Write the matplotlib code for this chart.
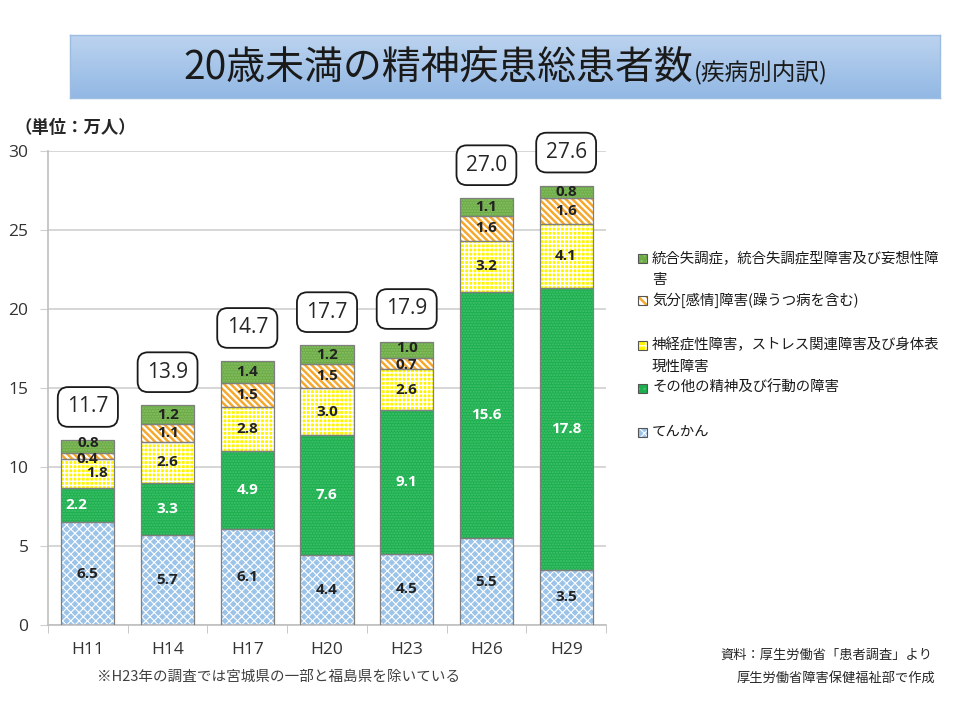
import matplotlib
matplotlib.use("Agg")
import matplotlib.pyplot as plt
import numpy as np
from matplotlib.patches import Rectangle
from matplotlib.colors import LinearSegmentedColormap

plt.rcParams['font.family'] = ['Noto Sans CJK JP', 'DejaVu Sans']

# ---------------- data ----------------
years = ["H11", "H14", "H17", "H20", "H23", "H26", "H29"]
epilepsy = [6.5, 5.7, 6.1, 4.4, 4.5, 5.5, 3.5]
other = [2.2, 3.3, 4.9, 7.6, 9.1, 15.6, 17.8]
neurotic = [1.8, 2.6, 2.8, 3.0, 2.6, 3.2, 4.1]
mood = [0.4, 1.1, 1.5, 1.5, 0.7, 1.6, 1.6]
schizo = [0.8, 1.2, 1.4, 1.2, 1.0, 1.1, 0.8]
total_labels = ["11.7", "13.9", "14.7", "17.7", "17.9", "27.0", "27.6"]

series_names = [
    "統合失調症，統合失調症型障害及び妄想性障\n害",
    "気分[感情]障害(躁うつ病を含む)",
    "神経症性障害，ストレス関連障害及び身体表\n現性障害",
    "その他の精神及び行動の障害",
    "てんかん",
]

# ---------------- figure ----------------
fig = plt.figure(figsize=(9.6, 7.2), dpi=100)
W, H = 960, 720

def fx(px):
    return px / W

def fy(py):
    return 1 - py / H

# title banner
tax = fig.add_axes([fx(70), fy(98), fx(940) - fx(70), fy(35) - fy(98)])
grad = np.linspace(0, 1, 100).reshape(-1, 1)
cmap_t = LinearSegmentedColormap.from_list("t", ["#BCD3EF", "#92B8E4"])
tax.imshow(grad, aspect='auto', cmap=cmap_t, extent=[0, 1, 0, 1], origin='upper')
tax.set_xticks([]); tax.set_yticks([])
for s in tax.spines.values():
    s.set_color("#9DBCE2"); s.set_linewidth(1)
fig.text(fx(183), fy(68), "20歳未満の精神疾患総患者数", fontsize=28, color="#1a1a1a",
         ha='left', va='center')
fig.text(fx(694), fy(73), "(疾病別内訳)", fontsize=17, color="#1a1a1a",
         ha='left', va='center')

# main axes
ax = fig.add_axes([fx(48), fy(625), fx(606) - fx(48), fy(151) - fy(625)])
x = np.arange(len(years))
bw = 0.665

styles = [
    # (values, face, hatchcolor, hatch, hatch lw, label color)
    (epilepsy, "#9CC3E8", "#FFFFFF", "xxxx", 0.8, "#222222"),
    (other, "#1DAF4E", "#45C270", "......", 1.0, "#FFFFFF"),
    (neurotic, "#FFF500", "#FFFFFF", "++++", 1.0, "#222222"),
    (mood, "#FFFFFF", "#F5A82E", "\\\\\\\\\\", 1.8, "#222222"),
    (schizo, "#6DAB47", "#88C166", "......", 1.0, "#222222"),
]

bottom = np.zeros(len(years))
label_off = {  # small offsets (dx, dy) for crowded labels
    (0, 1): (-0.15, 0.0), (0, 2): (0.12, 0.0), (0, 3): (0.0, -0.2), (0, 4): (0.0, 0.25),
    (4, 3): (0.0, -0.12), (4, 4): (0.0, 0.12),
}
for si, (vals, face, hc, hatch, hlw, lc) in enumerate(styles):
    vals = np.array(vals)
    bars = ax.bar(x, vals, bw, bottom=bottom, color=face, edgecolor=hc,
                  hatch=hatch, linewidth=0, zorder=2)
    for b in bars:
        if hasattr(b, "set_hatch_linewidth"):
            b.set_hatch_linewidth(hlw)
    ax.bar(x, vals, bw, bottom=bottom, fill=False, edgecolor="#7F7F7F",
           linewidth=0.9, zorder=3)
    for i, v in enumerate(vals):
        dx, dy = label_off.get((i, si), (0, 0))
        ax.text(x[i] + dx, bottom[i] + v / 2 + dy, f"{v:.1f}", ha='center', va='center',
                fontsize=11, fontweight='bold', color=lc,
                family=['Open Sans', 'DejaVu Sans'], zorder=5)
    bottom = bottom + vals

# total boxes
for i, t in enumerate(total_labels):
    ax.text(x[i], bottom[i] + 2.1, t, ha='center', va='center', fontsize=15,
            color="#262626", family=['Open Sans', 'DejaVu Sans'], zorder=6,
            bbox=dict(boxstyle="round,pad=0.45,rounding_size=0.5", fc="white",
                      ec="#1a1a1a", lw=1.3))

ax.set_xlim(-0.5, len(years) - 0.5)
ax.set_ylim(0, 30)
ax.set_yticks(np.arange(0, 31, 5))
ax.yaxis.grid(True, color="#D0D0D0", lw=1.2, zorder=0)
ax.set_axisbelow(True)
for s in ["top", "right"]:
    ax.spines[s].set_visible(False)
ax.spines["left"].set_color("#BFBFBF")
ax.spines["bottom"].set_color("#BFBFBF")
ax.spines["left"].set_linewidth(1.2)
ax.spines["bottom"].set_linewidth(1.2)
ax.tick_params(axis='y', length=6, color="#D0D0D0", labelsize=12.5, labelcolor="#333333",
               pad=8)
ax.set_xticks(x)
ax.set_xticklabels(years)
ax.tick_params(axis='x', length=0, labelsize=12.5, labelcolor="#333333", pad=12)
ax.set_xticks(np.arange(-0.5, len(years), 1), minor=True)
ax.tick_params(axis='x', which='minor', length=6, color="#BFBFBF")
for lab in ax.get_xticklabels() + ax.get_yticklabels():
    lab.set_family(['Open Sans', 'DejaVu Sans'])

fig.text(fx(75), fy(128), "（単位：万人）", fontsize=12.5, ha='center', va='center',
         color="#262626", fontweight='bold')

# legend (manual)
leg_items = [
    (258, 280, styles[4]),
    (300, None, styles[3]),
    (345, 367, styles[2]),
    (388, None, styles[1]),
    (432, None, styles[0]),
]
leg_hatch = {0: "xxx", 1: "...", 2: "++", 3: "\\\\\\\\", 4: "..."}
for k, (y1, y2, st) in enumerate(leg_items):
    _, face, hc, hatch, hlw, _ = st
    si = 4 - k
    r = Rectangle((fx(638), fy(y1 + 5)), fx(9), fy(0) - fy(9), transform=fig.transFigure,
                  facecolor=face, edgecolor=hc, hatch=leg_hatch[si], linewidth=0)
    if hasattr(r, "set_hatch_linewidth"):
        r.set_hatch_linewidth(hlw)
    fig.add_artist(r)
    r2 = Rectangle((fx(638), fy(y1 + 5)), fx(9), fy(0) - fy(9), transform=fig.transFigure,
                   fill=False, edgecolor="#555555", linewidth=0.8)
    fig.add_artist(r2)
    lines = series_names[k].split("\n")
    fig.text(fx(652), fy(y1), lines[0], fontsize=10.4, ha='left', va='center',
             color="#1a1a1a")
    if y2 is not None:
        fig.text(fx(652), fy(y2), lines[1], fontsize=10.4, ha='left', va='center',
                 color="#1a1a1a")

fig.text(fx(97), fy(677), "※H23年の調査では宮城県の一部と福島県を除いている", fontsize=10.5,
         ha='left', va='center', color="#404040")
fig.text(fx(932), fy(655), "資料：厚生労働省「患者調査」より", fontsize=9.5,
         ha='right', va='center', color="#262626")
fig.text(fx(935), fy(678), "厚生労働省障害保健福祉部で作成", fontsize=9.5,
         ha='right', va='center', color="#262626")

fig.savefig("out.png", dpi=100)
